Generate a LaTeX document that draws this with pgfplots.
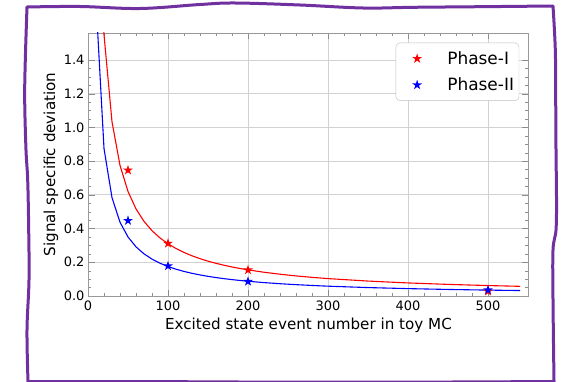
\documentclass[border=0pt]{standalone}
\usepackage{fontspec}
\setmainfont{DejaVu Sans}
\usepackage{pgfplots}
\pgfplotsset{compat=1.18}
\definecolor{bordpurple}{RGB}{112,48,160}
\pgfdeclareplotmark{fstar}{%
  \pgfpathmoveto{\pgfpointpolar{90}{\pgfplotmarksize}}%
  \pgfpathlineto{\pgfpointpolar{126}{0.382\pgfplotmarksize}}%
  \pgfpathlineto{\pgfpointpolar{162}{\pgfplotmarksize}}%
  \pgfpathlineto{\pgfpointpolar{198}{0.382\pgfplotmarksize}}%
  \pgfpathlineto{\pgfpointpolar{234}{\pgfplotmarksize}}%
  \pgfpathlineto{\pgfpointpolar{270}{0.382\pgfplotmarksize}}%
  \pgfpathlineto{\pgfpointpolar{306}{\pgfplotmarksize}}%
  \pgfpathlineto{\pgfpointpolar{342}{0.382\pgfplotmarksize}}%
  \pgfpathlineto{\pgfpointpolar{18}{\pgfplotmarksize}}%
  \pgfpathlineto{\pgfpointpolar{54}{0.382\pgfplotmarksize}}%
  \pgfpathclose
  \pgfusepathqfill}
\begin{document}
\begin{tikzpicture}[x=1bp,y=1bp]
\useasboundingbox (0,0) rectangle (567,381);
\begin{axis}[
  scale only axis,
  width=440bp, height=263bp,
  at={(88bp,85bp)}, anchor=south west,
  xmin=0, xmax=550, ymin=0, ymax=1.56,
  xtick={0,100,...,500},
  ytick={0,0.2,...,1.4},
  minor x tick num=4, minor y tick num=3,
  major tick length=6.5bp, minor tick length=3.3bp,
  tick style={color=gray!90},
  axis line style={gray!80},
  grid=major,
  major grid style={gray!35, line width=0.8pt},
  tick label style={font=\fontsize{13}{15}\selectfont},
  yticklabel style={/pgf/number format/.cd, fixed, fixed zerofill, precision=1},
  xticklabel style={yshift=-1.4bp},
  /pgf/number format/assume math mode=true,
  label style={font=\fontsize{15.2}{18}\selectfont},
  xlabel={Excited state event number in toy MC},
  ylabel={Signal specific deviation},
  xlabel style={at={(axis description cs:0.501,-0.113)}, anchor=center},
  ylabel style={at={(axis description cs:-0.084,0.5)}, anchor=center},
  legend style={at={(axis description cs:0.98,0.963)}, anchor=north east,
    draw=gray!50, rounded corners=4bp, inner xsep=3bp, inner ysep=6.5bp,
    row sep=8bp, column sep=10bp, font=\fontsize{17}{20}\selectfont,
    nodes={inner sep=2bp}},
  legend cell align=left,
  legend image code/.code={\path (-18bp,0) (18bp,0);
    \draw[mark repeat=2,mark phase=2,#1] plot coordinates {(-10bp,0bp) (0bp,0bp) (10bp,0bp)};},
]
% fitted curves
\addplot[red, line width=1.1pt, forget plot] coordinates {
(10,3.1) (20,1.55) (30,1.0333) (40,0.775) (50,0.62) (60,0.5167) (70,0.4429)
(80,0.3875) (90,0.3444) (100,0.31) (110,0.2818) (120,0.2583) (130,0.2385)
(140,0.2214) (150,0.2067) (160,0.1938) (170,0.1824) (180,0.1722) (190,0.1632)
(200,0.155) (220,0.1409) (240,0.1292) (260,0.1192) (280,0.1107) (300,0.1033)
(350,0.0886) (400,0.0775) (450,0.0689) (500,0.062) (540,0.0574)};
\addplot[blue, line width=1.1pt, forget plot] coordinates {
(10,1.75) (20,0.875) (30,0.5833) (40,0.4375) (50,0.35) (60,0.2917) (70,0.25)
(80,0.2188) (90,0.1944) (100,0.175) (110,0.1591) (120,0.1458) (130,0.1346)
(140,0.125) (150,0.1167) (160,0.1094) (170,0.1029) (180,0.0972) (190,0.0921)
(200,0.0875) (220,0.0795) (240,0.0729) (260,0.0673) (280,0.0625) (300,0.0583)
(350,0.05) (400,0.0438) (450,0.0389) (500,0.035) (540,0.0324)};
% measured points
\addplot[only marks, mark=fstar, mark size=5.2bp, color=red, fill=red] coordinates {
(50,0.746) (100,0.312) (200,0.154) (500,0.028)};
\addlegendentry{Phase-I}
\addplot[only marks, mark=fstar, mark size=5.2bp, color=blue, fill=blue] coordinates {
(50,0.447) (100,0.178) (200,0.086) (500,0.036)};
\addlegendentry{Phase-II}
\end{axis}
% hand-drawn frame
\draw[bordpurple, line width=3bp, line join=round, line cap=round]
  plot[smooth, tension=0.6] coordinates {
   (27,374) (80,374.5) (140,372.5) (200,376.5) (235,378) (300,376) (363,373)
   (413,373.7) (480,374.3) (553,375)}
  -- plot[smooth, tension=0.6] coordinates {
   (553,375) (555.3,331) (555.7,281) (556,231) (556.5,181) (556,151) (553,131) (553,81) (554,-0.5)}
  -- plot[smooth, tension=0.6] coordinates {
   (554,-0.5) (450,-1) (300,-1.2) (150,-0.6) (28,-0.5)}
  -- plot[smooth, tension=0.6] coordinates {
   (28,-0.5) (27,51) (29,101) (28.7,151) (27.7,201) (26,231) (24.7,281) (25.3,321) (27,374)};
\end{tikzpicture}
\end{document}
